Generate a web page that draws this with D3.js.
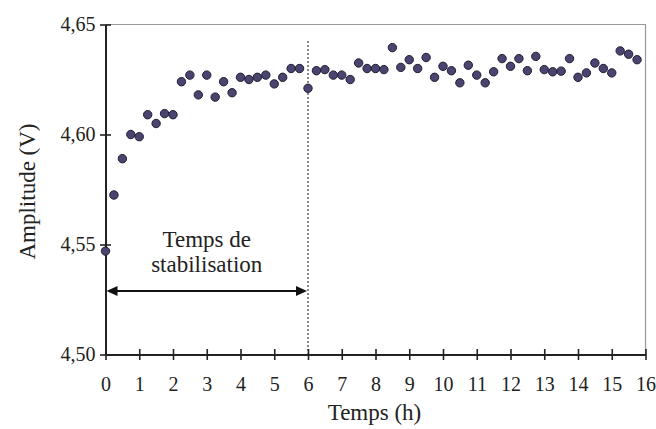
<!DOCTYPE html>
<html><head><meta charset="utf-8">
<script src="https://cdn.jsdelivr.net/npm/d3@7"></script>
<style>
html,body{margin:0;padding:0;background:#fff;}
svg{display:block;font-family:"Liberation Serif","Times New Roman",serif;}
</style></head>
<body><svg id="c" width="656" height="429"></svg>
<script>
const times = [0,0.25,0.5,0.75,1,1.25,1.5,1.75,2,2.25,2.5,2.75,3,3.25,3.5,3.75,
  4,4.25,4.5,4.75,5,5.25,5.5,5.75,6,6.25,6.5,6.75,7,7.25,7.5,7.75,
  8,8.25,8.5,8.75,9,9.25,9.5,9.75,10,10.25,10.5,10.75,11,11.25,11.5,11.75,
  12,12.25,12.5,12.75,13,13.25,13.5,13.75,14,14.25,14.5,14.75,15,15.25,15.5,15.75];
const amplitudes = [4.547,4.5725,4.589,4.600,4.599,4.609,4.605,4.6095,4.609,4.624,4.627,4.618,4.627,4.617,4.624,4.619,
  4.626,4.625,4.626,4.627,4.623,4.626,4.630,4.630,4.621,4.629,4.6295,4.627,4.627,4.625,4.6325,4.630,
  4.630,4.6295,4.6395,4.6305,4.634,4.630,4.635,4.626,4.631,4.629,4.6235,4.6315,4.627,4.6235,4.6285,4.6345,
  4.631,4.6345,4.629,4.6355,4.6295,4.6285,4.6288,4.6345,4.626,4.628,4.6325,4.630,4.628,4.638,4.6365,4.634];
const xTicks = [0,1,2,3,4,5,6,7,8,9,10,11,12,13,14,15,16];
const yTicks = [4.50,4.55,4.60,4.65];
const xDomain = [0,16], yDomain = [4.50,4.65];
const stabilisationEnd = 6;
const annotationLines = ["Temps de","stabilisation"];
const xTitle = "Temps (h)", yTitle = "Amplitude (V)";

const svg = d3.select("#c");
const L = 105.5, R = 645.5, T = 24.5, B = 354.5;
const x = d3.scaleLinear().domain(xDomain).range([L,R]);
const y = d3.scaleLinear().domain(yDomain).range([B,T]);
const fmt = d => d3.format(".2f")(d).replace(".",",");

// top/right border
svg.append("path").attr("d",`M${L},${T}H${R}V${B}`).attr("fill","none").attr("stroke","#999").attr("stroke-width",1.2);

// dashed stabilisation line
svg.append("line").attr("x1",x(stabilisationEnd)).attr("x2",x(stabilisationEnd))
  .attr("y1",41).attr("y2",B).attr("stroke","#111").attr("stroke-width",1).attr("stroke-dasharray","2,2");

// x axis
const gx = svg.append("g").attr("transform",`translate(0,${B})`)
  .call(d3.axisBottom(x).tickValues(xTicks).tickFormat(d3.format("d")).tickSize(0).tickPadding(22));
gx.select(".domain").attr("stroke","#222").attr("stroke-width",2);
gx.selectAll(".tick line").attr("y1",-5.5).attr("y2",5.5).attr("stroke","#222").attr("stroke-width",1.6);
gx.selectAll(".tick text").attr("font-size",20).attr("fill","#222").attr("font-family","Liberation Serif");

// y axis
const gy = svg.append("g").attr("transform",`translate(${L},0)`)
  .call(d3.axisLeft(y).tickValues(yTicks).tickFormat(fmt).tickSize(0).tickPadding(10));
gy.select(".domain").attr("stroke","#222").attr("stroke-width",2);
gy.selectAll(".tick line").attr("x1",-5.5).attr("x2",5.5).attr("stroke","#222").attr("stroke-width",1.6);
gy.selectAll(".tick text").attr("font-size",20).attr("fill","#222").attr("font-family","Liberation Serif");

// titles
svg.append("text").attr("x",(L+R)/2 - 1).attr("y",420).attr("text-anchor","middle")
  .attr("font-size",23).attr("fill","#222").text(xTitle);
svg.append("text").attr("transform",`translate(35,${(T+B)/2+2}) rotate(-90)`).attr("text-anchor","middle")
  .attr("font-size",23).attr("fill","#222").text(yTitle);

// annotation
const cx = (x(0)+x(stabilisationEnd))/2;
svg.append("text").attr("x",cx).attr("y",247).attr("text-anchor","middle").attr("font-size",23).attr("fill","#222").text(annotationLines[0]);
svg.append("text").attr("x",cx).attr("y",272).attr("text-anchor","middle").attr("font-size",23).attr("fill","#222").text(annotationLines[1]);
const ay = 291, ah = 11, aw = 5;
const ax0 = x(0)+1, ax1 = x(stabilisationEnd)-1;
svg.append("line").attr("x1",ax0+ah-2).attr("x2",ax1-ah+2).attr("y1",ay).attr("y2",ay).attr("stroke","#111").attr("stroke-width",2.2);
svg.append("path").attr("d",`M${ax0},${ay}L${ax0+ah},${ay-aw}L${ax0+ah},${ay+aw}Z`).attr("fill","#111");
svg.append("path").attr("d",`M${ax1},${ay}L${ax1-ah},${ay-aw}L${ax1-ah},${ay+aw}Z`).attr("fill","#111");

// points
svg.append("g").selectAll("circle").data(times.map((t,i)=>[t,amplitudes[i]])).join("circle")
  .attr("cx",d=>x(d[0])).attr("cy",d=>y(d[1])).attr("r",4.2)
  .attr("fill","#4a4470").attr("stroke","#1f1d2e").attr("stroke-width",1);
</script></body></html>
